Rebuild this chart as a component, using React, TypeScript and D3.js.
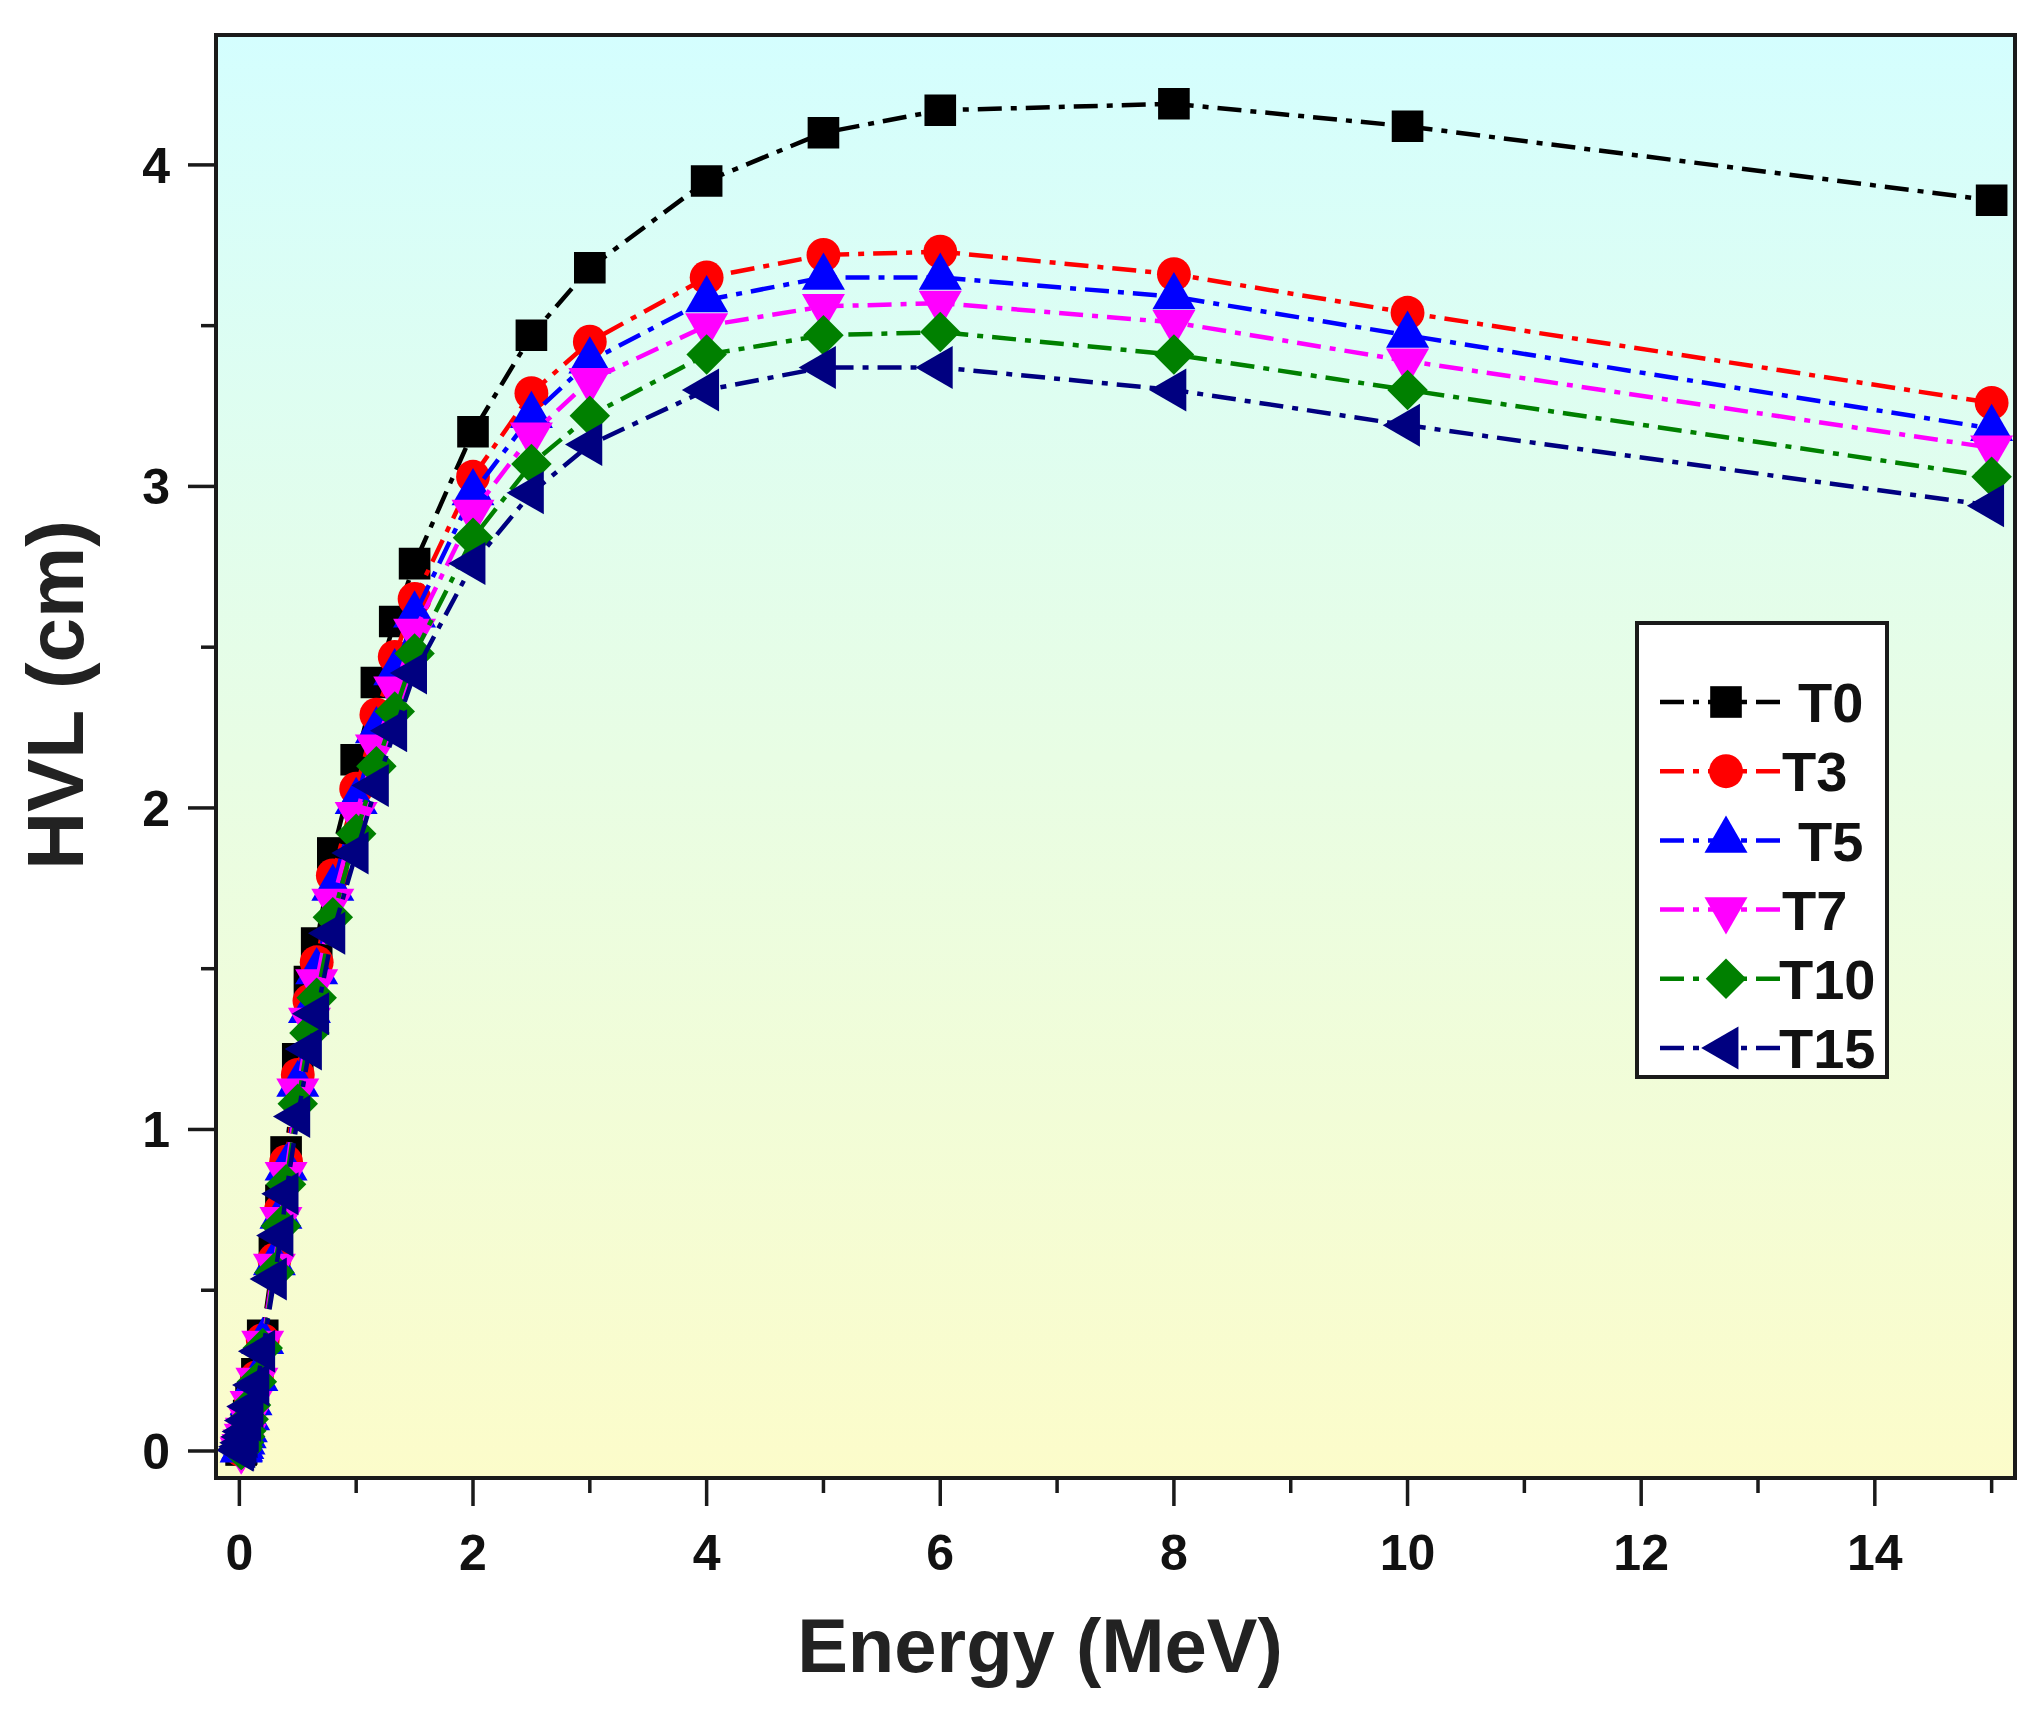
import React, { useEffect, useRef } from 'react';
import * as d3 from 'd3';

// photon energies (MeV)
const energy = [0.015, 0.02, 0.03, 0.04, 0.05, 0.06, 0.08, 0.1, 0.15, 0.2, 0.3, 0.356, 0.4, 0.5, 0.6, 0.662, 0.8, 1, 1.173, 1.33, 1.5, 2, 2.5, 3, 4, 5, 6, 8, 10, 15];

// HVL (cm) per sample
const hvlT0 = [0.003, 0.006, 0.015, 0.03, 0.05, 0.07, 0.11, 0.16, 0.24, 0.36, 0.62, 0.78, 0.93, 1.22, 1.46, 1.58, 1.86, 2.15, 2.39, 2.58, 2.76, 3.17, 3.47, 3.68, 3.95, 4.1, 4.17, 4.19, 4.12, 3.89];
const hvlT3 = [0.003, 0.006, 0.014, 0.029, 0.048, 0.067, 0.106, 0.155, 0.23, 0.345, 0.595, 0.75, 0.9, 1.17, 1.4, 1.52, 1.79, 2.06, 2.29, 2.47, 2.65, 3.03, 3.29, 3.45, 3.65, 3.72, 3.73, 3.66, 3.54, 3.26];
const hvlT5 = [0.003, 0.006, 0.014, 0.028, 0.047, 0.066, 0.103, 0.15, 0.225, 0.34, 0.585, 0.73, 0.88, 1.14, 1.37, 1.49, 1.75, 2.02, 2.24, 2.42, 2.6, 2.98, 3.22, 3.39, 3.58, 3.65, 3.65, 3.59, 3.47, 3.18];
const hvlT7 = [0.003, 0.006, 0.014, 0.028, 0.046, 0.065, 0.102, 0.148, 0.22, 0.335, 0.575, 0.72, 0.86, 1.12, 1.34, 1.46, 1.71, 1.98, 2.19, 2.37, 2.55, 2.92, 3.16, 3.33, 3.5, 3.56, 3.57, 3.51, 3.39, 3.12];
const hvlT10 = [0.003, 0.005, 0.013, 0.027, 0.045, 0.063, 0.099, 0.143, 0.215, 0.32, 0.555, 0.7, 0.83, 1.08, 1.3, 1.41, 1.66, 1.92, 2.13, 2.3, 2.48, 2.84, 3.07, 3.22, 3.41, 3.47, 3.48, 3.41, 3.3, 3.03];
const hvlT15 = [0.002, 0.005, 0.013, 0.026, 0.044, 0.061, 0.095, 0.138, 0.205, 0.31, 0.535, 0.67, 0.8, 1.04, 1.25, 1.36, 1.61, 1.86, 2.07, 2.24, 2.42, 2.76, 2.98, 3.13, 3.3, 3.37, 3.37, 3.3, 3.19, 2.94];

const seriesNames = ['T0', 'T3', 'T5', 'T7', 'T10', 'T15'];
const seriesValues = [hvlT0, hvlT3, hvlT5, hvlT7, hvlT10, hvlT15];

const xTickLabels = [0, 2, 4, 6, 8, 10, 12, 14];
const yTickLabels = [0, 1, 2, 3, 4];

const colors = ['#000000', '#ff0000', '#0000ff', '#ff00ff', '#008000', '#000080'];
// symbol type, rotation, area
const symbols: [d3.SymbolType, number, number][] = [
  [d3.symbolSquare, 0, 1000],
  [d3.symbolCircle, 0, 900],
  [d3.symbolTriangle, 0, 800],
  [d3.symbolTriangle, 180, 800],
  [d3.symbolSquare, 45, 820],
  [d3.symbolTriangle, -90, 800],
];
// legend text nudges (Origin puts some labels a bit further right)
const legendDx = [16, 0, 16, 0, -3, -3];

const FONT = '"Liberation Sans", Arial, Helvetica, sans-serif';
const DASH = '24 9 6 9';

const App: React.FC = () => {
  const svgRef = useRef<SVGSVGElement>(null);

  useEffect(() => {
    if (!svgRef.current) return;
    const svg = d3.select(svgRef.current);
    svg.selectAll('*').remove();

    const plot = { left: 216, right: 2015, top: 35, bottom: 1478 };

    const x = d3.scaleLinear().domain([-0.2, 15.2]).range([plot.left, plot.right]);
    const y = d3.scaleLinear().domain([-0.084, 4.404]).range([plot.bottom, plot.top]);

    // background gradient
    const grad = svg.append('defs').append('linearGradient')
      .attr('id', 'bg').attr('x1', 0).attr('y1', 0).attr('x2', 0).attr('y2', 1);
    grad.append('stop').attr('offset', '0%').attr('stop-color', 'rgb(212,254,254)');
    grad.append('stop').attr('offset', '100%').attr('stop-color', 'rgb(252,252,202)');

    svg.append('clipPath').attr('id', 'plotclip').append('rect')
      .attr('x', plot.left).attr('y', plot.top)
      .attr('width', plot.right - plot.left).attr('height', plot.bottom - plot.top);

    svg.append('rect')
      .attr('x', plot.left).attr('y', plot.top)
      .attr('width', plot.right - plot.left).attr('height', plot.bottom - plot.top)
      .attr('fill', 'url(#bg)');

    // series
    const line = d3.line<number>()
      .x((_, i) => x(energy[i]))
      .y(d => y(d));

    const dataLayer = svg.append('g').attr('clip-path', 'url(#plotclip)');
    seriesValues.forEach((vals, s) => {
      const g = dataLayer.append('g');
      g.append('path')
        .datum(vals)
        .attr('d', line)
        .attr('fill', 'none')
        .attr('stroke', colors[s])
        .attr('stroke-width', 4.5)
        .attr('stroke-dasharray', DASH);
      const [type, rot, size] = symbols[s];
      const sym = d3.symbol().type(type).size(size);
      g.selectAll('path.m')
        .data(vals)
        .enter()
        .append('path')
        .attr('class', 'm')
        .attr('d', sym)
        .attr('transform', (d, i) => `translate(${x(energy[i])},${y(d)}) rotate(${rot})`)
        .attr('fill', colors[s]);
    });

    // frame
    svg.append('rect')
      .attr('x', plot.left).attr('y', plot.top)
      .attr('width', plot.right - plot.left).attr('height', plot.bottom - plot.top)
      .attr('fill', 'none').attr('stroke', '#1a1a1a').attr('stroke-width', 4);

    // x ticks
    const xAxis = svg.append('g').attr('stroke', '#1a1a1a').attr('stroke-width', 3.5);
    d3.range(0, 16, 1).forEach(v => {
      const major = v % 2 === 0;
      xAxis.append('line')
        .attr('x1', x(v)).attr('x2', x(v))
        .attr('y1', plot.bottom).attr('y2', plot.bottom + (major ? 28 : 15));
    });
    svg.append('g').selectAll('text').data(xTickLabels).enter().append('text')
      .attr('x', d => x(d)).attr('y', 1570)
      .attr('text-anchor', 'middle')
      .style('font-family', FONT).style('font-weight', 'bold').style('font-size', '50px')
      .attr('fill', '#111')
      .text(d => d);

    // y ticks
    const yAxis = svg.append('g').attr('stroke', '#1a1a1a').attr('stroke-width', 3.5);
    d3.range(0, 4.01, 0.5).forEach(v => {
      const major = Math.abs(v - Math.round(v)) < 1e-6;
      yAxis.append('line')
        .attr('x1', plot.left).attr('x2', plot.left - (major ? 28 : 15))
        .attr('y1', y(v)).attr('y2', y(v));
    });
    svg.append('g').selectAll('text').data(yTickLabels).enter().append('text')
      .attr('x', 170).attr('y', d => y(d))
      .attr('dy', '0.36em')
      .attr('text-anchor', 'end')
      .style('font-family', FONT).style('font-weight', 'bold').style('font-size', '50px')
      .attr('fill', '#111')
      .text(d => d);

    // axis titles
    svg.append('text')
      .attr('x', 1040).attr('y', 1672)
      .attr('text-anchor', 'middle')
      .style('font-family', FONT).style('font-weight', 'bold').style('font-size', '76px')
      .attr('fill', '#222')
      .text('Energy (MeV)');

    svg.append('text')
      .attr('transform', 'translate(83,695) rotate(-90)')
      .attr('text-anchor', 'middle')
      .style('font-family', FONT).style('font-weight', 'bold').style('font-size', '80px')
      .attr('fill', '#222')
      .text('HVL (cm)');

    // legend
    const lg = svg.append('g');
    lg.append('rect')
      .attr('x', 1637).attr('y', 623).attr('width', 250).attr('height', 454)
      .attr('fill', '#ffffff').attr('stroke', '#1a1a1a').attr('stroke-width', 4);
    seriesNames.forEach((name, s) => {
      const ly = 702 + s * 69.2;
      lg.append('line')
        .attr('x1', 1660).attr('x2', 1786).attr('y1', ly).attr('y2', ly)
        .attr('stroke', colors[s]).attr('stroke-width', 4.5)
        .attr('stroke-dasharray', DASH);
      const [type, rot, size] = symbols[s];
      lg.append('path')
        .attr('d', d3.symbol().type(type).size(size)())
        .attr('transform', `translate(1726,${ly}) rotate(${rot})`)
        .attr('fill', colors[s]);
      lg.append('text')
        .attr('x', 1782 + legendDx[s]).attr('y', ly).attr('dy', '0.36em')
        .style('font-family', FONT).style('font-weight', 'bold').style('font-size', '56px')
        .attr('fill', '#111')
        .text(name);
    });
  }, []);

  return (
    <svg
      ref={svgRef}
      width={2044}
      height={1710}
      style={{ position: 'absolute', left: 0, top: 0, background: '#ffffff' }}
    />
  );
};

export default App;
